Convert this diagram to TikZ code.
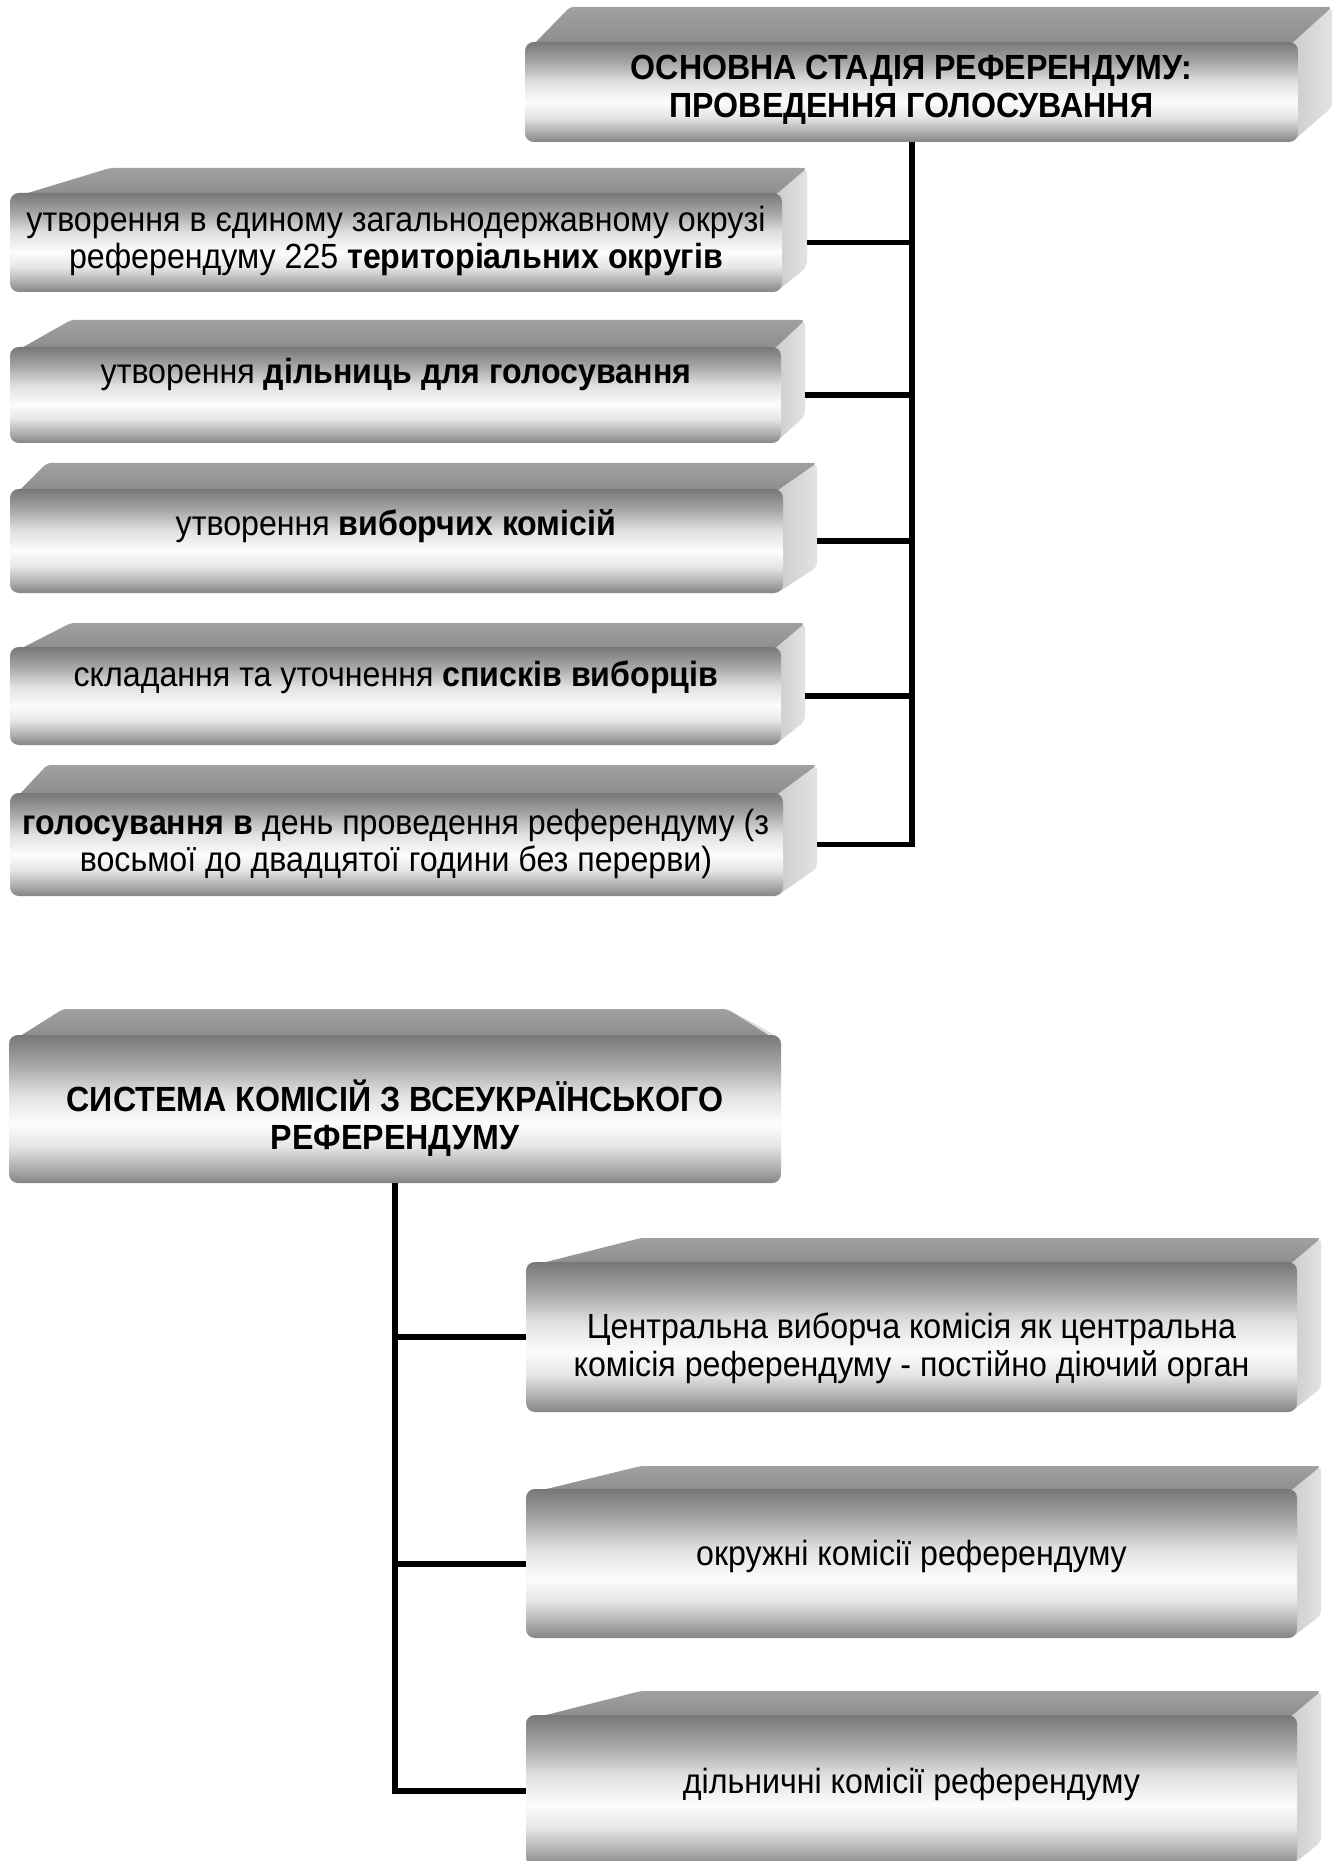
\documentclass[tikz,border=0pt]{standalone}
\usepackage{fontspec}
\setmainfont{Liberation Sans}[FakeStretch=0.92]
\usetikzlibrary{calc}
\definecolor{fA}{gray}{0.47}
\definecolor{fB}{gray}{0.65}
\definecolor{fC}{gray}{0.88}
\definecolor{fD}{gray}{0.99}
\definecolor{fE}{gray}{0.90}
\definecolor{fF}{gray}{0.68}
\definecolor{fG}{gray}{0.52}
\pgfdeclareverticalshading{frontshade}{100bp}{color(0bp)=(fG); color(25bp)=(fG); color(30bp)=(fF); color(37.5bp)=(fE); color(45bp)=(fD); color(55bp)=(fC); color(65bp)=(fB); color(75bp)=(fA); color(100bp)=(fA)}
\tikzset{
  frontface/.style={shading=frontshade, rounded corners=5pt},
  topface/.style={top color=black!37, bottom color=black!45, rounded corners=2pt},
  sideface/.style={left color=black!20, right color=black!11, rounded corners=3pt},
  boxtext/.style={align=center, inner sep=0pt, font=\fontsize{19.9pt}{21.5pt}\selectfont},
  conn/.style={line width=3.4pt, black}
}
% #1 name, #2 x0, #3 y0 (front top), #4 x1, #5 y1 (front bottom), #6 back-left x, #7 back-right x, #8 back top y
\newcommand\tdbox[8]{%
  \shade[sideface] ({#4-6},#3) -- (#7,#8) -- (#7,{#5-(#3-#8)}) -- ({#4-6},#5) -- cycle;
  \shade[topface] ({#2+8},{#3+3}) -- (#6,#8) -- (#7,#8) -- ({#4-8},{#3+3}) -- cycle;
  \shade[frontface] (#2,#3) rectangle (#4,#5);
  \coordinate (#1-b) at ({(#2+#4)/2},#5);
  \coordinate (#1-r) at (#7,{(#3+#5)/2});
  \coordinate (#1-l) at (#2,{(#3+#5)/2});
}
\begin{document}
\begin{tikzpicture}[x=0.02cm,y=-0.02cm]
\useasboundingbox (0,0) rectangle (1334,1861);
\clip (0,0) rectangle (1334,1861);
\fill[white] (0,0) rectangle (1334,1861);

% upper group
\tdbox{T}{525}{42}{1298}{142}{570}{1332}{7}
\node[boxtext] (T) at (911.5,90) {\bfseries ОСНОВНА СТАДІЯ РЕФЕРЕНДУМУ:\\\bfseries ПРОВЕДЕННЯ ГОЛОСУВАННЯ};

\tdbox{A}{10}{193}{782}{292}{110}{807}{168}
\node[boxtext] (A) at (396,241) {утворення в єдиному загальнодержавному окрузі\\референдуму 225 \textbf{територіальних округів}};

\tdbox{B}{10}{347}{781}{443}{71}{805}{320}
\node[boxtext] (B) at (396,374) {утворення \textbf{дільниць для голосування}};

\tdbox{C}{10}{489}{783}{593}{47}{817}{463}
\node[boxtext] (C) at (396,526) {утворення \textbf{виборчих комісій}};

\tdbox{D}{10}{647}{781}{745}{71}{805}{623}
\node[boxtext] (D) at (396,677) {складання та уточнення \textbf{списків виборців}};

\tdbox{E}{10}{793}{783}{896}{47}{817}{765}
\node[boxtext] (E) at (396,844) {\textbf{голосування в} день проведення референдуму (з\\восьмої до двадцятої години без перерви)};

\draw[conn] (T-b) -- (T-b |- E-r) -- (E-r);
\draw[conn] (A-r) -- (A-r -| T-b);
\draw[conn] (B-r) -- (B-r -| T-b);
\draw[conn] (C-r) -- (C-r -| T-b);
\draw[conn] (D-r) -- (D-r -| T-b);

% lower group
\tdbox{F}{9}{1035}{781}{1183}{63}{727}{1009}
\node[boxtext] (F) at (395,1118) {\bfseries СИСТЕМА КОМІСІЙ З ВСЕУКРАЇНСЬКОГО\\\bfseries РЕФЕРЕНДУМУ};

\tdbox{G}{526}{1262}{1297}{1412}{641}{1321}{1238}
\node[boxtext] (G) at (911.5,1348) {Центральна виборча комісія як центральна\\комісія референдуму - постійно діючий орган};

\tdbox{H}{526}{1489}{1297}{1638}{641}{1321}{1466}
\node[boxtext] (H) at (911.5,1556) {окружні комісії референдуму};

\tdbox{I}{526}{1715}{1297}{1866}{641}{1321}{1691}
\node[boxtext] (I) at (911.5,1784) {дільничні комісії референдуму};

\draw[conn] (F-b) -- (F-b |- I-l) -- (I-l);
\draw[conn] (G-l -| F-b) -- (G-l);
\draw[conn] (H-l -| F-b) -- (H-l);
\end{tikzpicture}
\end{document}
